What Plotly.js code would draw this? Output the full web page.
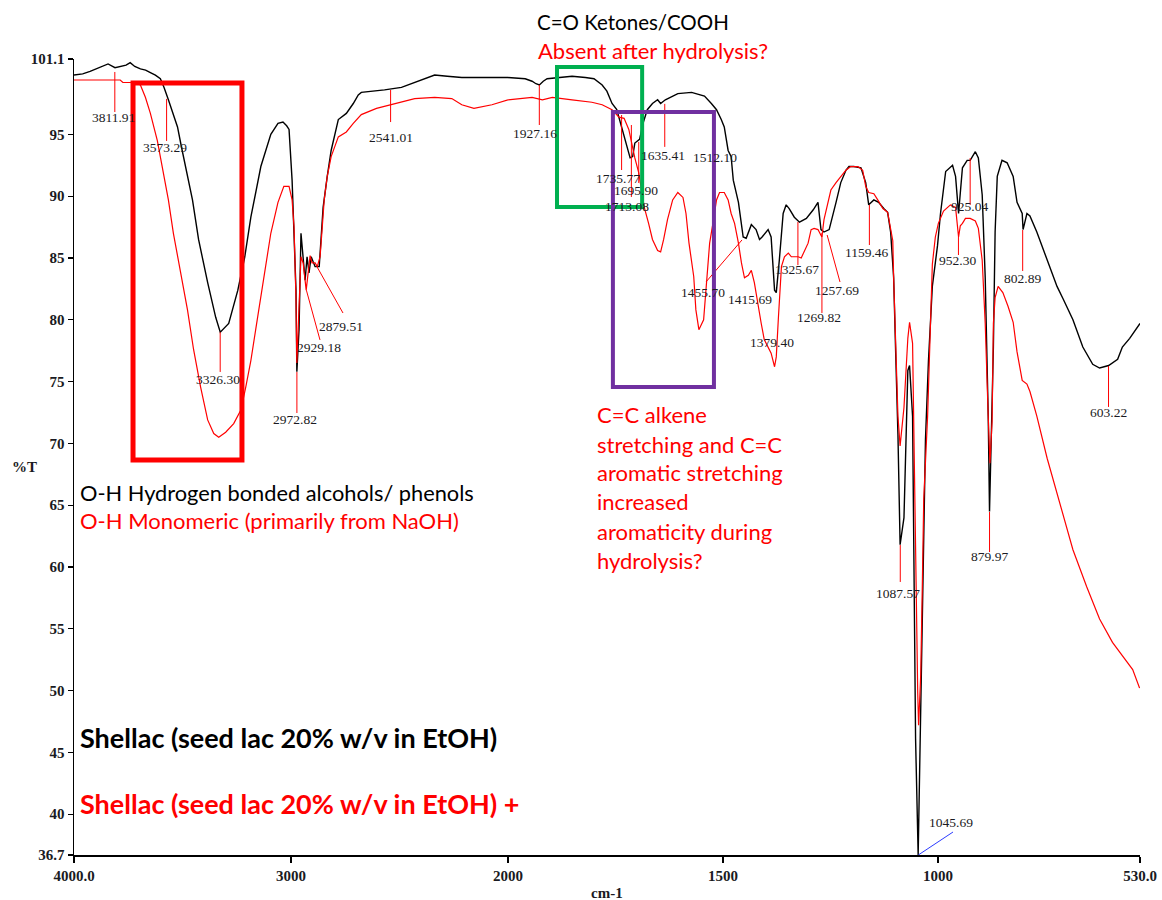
<!DOCTYPE html>
<html>
<head>
<meta charset="utf-8">
<script src="https://cdn.plot.ly/plotly-3.0.1.min.js"></script>
<style>
  html, body { margin: 0; padding: 0; background: #ffffff; }
  #chart { width: 1162px; height: 900px; }
</style>
</head>
<body>
<div id="chart"></div>
<script>
// FTIR spectra: wavenumber (cm-1) against transmittance (%T)
const shellacWn = [4000,3960,3926,3880,3843,3811,3787,3760,3741,3720,3694,3670,3648,3625,3602,3585,3565,3545,3523,3505,3486,3454,3426,3405,3384,3347,3326,3287,3245,3213,3185,3139,3093,3060,3037,3020,3009,2995,2986,2977,2973,2963,2954,2944,2935,2926,2917,2907,2889,2870,2861,2852,2833,2815,2782,2745,2713,2690,2676,2620,2569,2491,2430,2398,2338,2280,2213,2150,2074,2000,1960,1944,1935,1927,1918,1909,1874,1851,1820,1800,1781,1770,1758,1747,1735,1724,1716,1710,1705,1694,1685,1676,1664,1652,1645,1634,1605,1573,1543,1527,1515,1504,1497,1488,1481,1476,1464,1453,1446,1434,1423,1415,1409,1395,1388,1380,1376,1369,1360,1353,1346,1334,1322,1306,1290,1279,1272,1265,1253,1237,1226,1214,1207,1196,1179,1168,1161,1149,1138,1126,1117,1110,1103,1098,1093,1088,1079,1070,1066,1059,1056,1052,1046,1043,1036,1029,1022,1013,1001,994,982,966,959,952,943,932,925,913,906,897,890,883,880,876,871,867,862,851,839,825,816,804,802,793,786,770,746,723,709,686,663,640,624,603,582,571,554,538,530];
const shellacT = [99.8,99.9,100.1,100.4,100.7,100.4,100.5,100.6,100.8,100.5,100.3,100.2,100.0,99.8,99.5,98.8,97.8,96.7,95.6,94.0,92.4,89.7,86.5,84.6,83.0,80.2,79.0,79.7,82.4,85.1,88.3,92.4,95.0,95.9,96.0,95.7,95.4,91.3,87.5,82.4,75.8,79.2,87.0,84.8,83.2,85.1,83.8,85.1,84.3,84.3,87.0,89.1,91.6,93.7,96.2,96.7,97.5,98.2,98.4,98.5,98.6,98.8,99.2,99.4,99.8,99.7,99.6,99.6,99.6,99.6,99.5,99.3,99.1,99.0,99.3,99.5,99.6,99.7,99.6,99.5,99.0,98.5,97.5,97.0,95.5,94.0,93.1,93.2,94.3,94.6,96.0,97.0,97.5,97.8,97.5,97.8,98.3,98.4,98.1,97.5,97.0,96.2,95.6,93.7,93.2,91.3,89.5,86.7,86.6,87.7,87.3,86.5,86.7,87.3,86.7,82.4,82.2,84.8,88.6,89.3,89.0,88.3,87.9,88.2,88.9,89.5,87.3,87.1,87.3,89.5,91.1,92.1,92.4,92.4,92.3,91.1,89.3,89.7,89.5,89.0,88.7,87.1,83.4,77.0,70.7,61.8,64.0,75.9,76.3,72.2,59.1,46.1,36.7,42.4,57.3,70.3,76.7,82.7,86.0,88.6,92.0,92.5,91.6,88.6,92.3,92.9,92.9,93.6,93.1,90.1,83.4,72.2,64.5,70.3,77.8,87.1,91.6,92.9,92.7,91.6,89.5,88.6,87.3,88.6,88.4,87.1,84.8,82.7,81.7,80.0,77.8,76.4,76.1,76.3,76.8,77.8,78.5,79.3,79.7];

const hydrolysedWn = [4000,3900,3810,3787,3775,3741,3710,3694,3671,3648,3616,3588,3565,3542,3509,3477,3449,3417,3384,3356,3333,3301,3264,3231,3208,3185,3153,3125,3093,3060,3033,3009,2995,2986,2977,2973,2963,2954,2944,2935,2930,2921,2912,2903,2889,2879,2866,2856,2847,2833,2815,2782,2745,2713,2676,2606,2537,2491,2430,2338,2259,2213,2157,2074,2000,1944,1920,1897,1851,1805,1781,1758,1742,1730,1719,1712,1705,1696,1689,1683,1673,1664,1652,1645,1638,1629,1617,1605,1593,1586,1579,1568,1563,1556,1545,1538,1531,1522,1515,1508,1497,1488,1481,1473,1464,1457,1450,1441,1434,1427,1418,1411,1404,1395,1388,1380,1376,1371,1364,1357,1348,1341,1325,1318,1302,1295,1288,1279,1270,1265,1255,1249,1237,1226,1214,1203,1186,1175,1168,1161,1149,1140,1128,1117,1110,1105,1103,1098,1093,1088,1079,1070,1066,1059,1056,1052,1047,1045,1040,1036,1033,1024,1017,1013,1006,999,987,971,959,955,952,948,943,936,925,913,906,897,890,883,879,874,871,867,860,849,837,825,816,804,793,786,770,746,716,686,654,624,594,571,547,531];
const hydrolysedT = [99.4,99.4,99.4,99.4,99.2,99.2,99.1,99.0,98.0,96.7,94.5,91.9,89.7,87.0,84.0,80.8,77.6,74.6,71.9,70.8,70.5,70.9,71.6,72.7,74.6,76.7,80.3,83.6,87.0,89.5,90.8,90.8,89.7,87.5,81.6,76.5,81.6,85.1,84.6,83.0,82.4,83.8,85.2,84.6,84.6,84.3,85.1,87.5,89.7,91.6,93.2,94.8,95.2,95.9,96.6,97.1,97.4,97.6,97.9,98.0,97.9,97.4,97.1,97.4,97.8,98.0,97.8,98.0,97.8,97.6,97.4,97.0,96.4,96.3,95.4,94.1,93.1,91.9,90.5,89.1,87.8,86.5,85.6,85.5,86.5,88.1,89.7,90.3,89.9,88.6,86.2,83.5,80.8,79.2,80.0,83.2,86.2,88.1,89.7,90.3,90.3,89.7,88.6,87.8,86.2,84.6,83.4,83.6,84.0,83.0,81.0,79.7,78.4,77.8,77.3,76.2,77.0,80.2,84.3,85.1,85.4,85.1,85.1,85.0,86.2,87.3,87.4,87.3,86.7,88.1,89.5,90.5,91.1,91.6,92.1,92.4,92.4,92.1,90.8,90.3,90.2,89.7,89.0,88.7,87.4,86.4,83.4,77.4,72.2,69.8,72.9,78.5,79.8,78.1,70.3,59.1,49.8,47.2,51.3,59.1,65.5,72.2,80.4,84.5,86.7,87.8,88.8,89.3,89.1,87.8,86.7,87.6,87.8,88.2,88.2,88.0,87.4,84.8,79.7,72.2,68.4,71.8,79.7,81.8,82.7,82.2,81.1,79.8,77.4,75.1,74.8,74.2,72.2,68.8,65.1,61.4,58.4,55.8,53.9,52.8,51.7,50.2];

// Axis ticks (the wavenumber scale doubles below 2000 cm-1)
const highTickVals = [4000, 3000, 2000];
const highTickText = ['4000.0', '3000', '2000'];
const lowTickVals = [1500, 1000, 530];
const lowTickText = ['1500', '1000', '530.0'];
const yTickVals = [101.1, 95, 90, 85, 80, 75, 70, 65, 60, 55, 50, 45, 40, 36.7];
const yTickText = ['101.1', '95', '90', '85', '80', '75', '70', '65', '60', '55', '50', '45', '40', '36.7'];

// Picked peak positions (cm-1)
const peakValues = [3811.91, 3573.29, 3326.30, 2972.82, 2929.18, 2879.51, 2541.01, 1927.16, 1735.77, 1713.08, 1695.90, 1635.41, 1512.10, 1455.70, 1415.69, 1379.40, 1325.67, 1269.82, 1257.69, 1159.46, 1087.57, 1045.69, 952.30, 925.04, 879.97, 802.89, 603.22];

// Placement of each peak label: leader from (peak, top) to (ex, bot), text centred at (lx, ly)
const peakPlacement = [
  {top: 100.05, bot: 96.81, lx: 3820, ly: 96.33},
  {top: 97.87, bot: 94.47, lx: 3580.7, ly: 93.9},
  {top: 79.0, bot: 75.78, lx: 3336.4, ly: 75.15},
  {top: 75.78, bot: 72.46, lx: 2981.6, ly: 71.9},
  {top: 82.4, ex: 2866.4, bot: 78.37, lx: 2871, ly: 77.72},
  {top: 84.27, ex: 2760.4, bot: 80.55, lx: 2769.7, ly: 79.42},
  {top: 98.59, bot: 96.0, lx: 2541, ly: 94.73},
  {top: 99.0, bot: 95.76, lx: 1937.2, ly: 95.11},
  {top: 96.57, bot: 92.12, lx: 1744, ly: 91.47},
  {top: 95.76, bot: 89.94, lx: 1723, ly: 89.13},
  {top: 94.39, bot: 91.07, lx: 1702, ly: 90.5},
  {top: 97.47, bot: 93.99, lx: 1639.5, ly: 93.33},
  {lx: 1518.5, ly: 93.17},
  {top: 86.46, ex: 1539.5, bot: 83.06, lx: 1546.4, ly: 82.17},
  {lx: 1437, ly: 81.68},
  {lx: 1386, ly: 78.2},
  {top: 87.91, bot: 84.43, lx: 1327.8, ly: 84.03},
  {top: 87.02, bot: 80.55, lx: 1276.6, ly: 80.15},
  {top: 86.86, ex: 1227.8, bot: 83.06, lx: 1234.7, ly: 82.41},
  {top: 89.29, bot: 86.05, lx: 1165, ly: 85.41},
  {top: 61.78, bot: 58.79, lx: 1092.9, ly: 57.82},
  {top: 36.7, ex: 964.9, bot: 38.56, lx: 969.5, ly: 39.29, color: '#2b3bff'},
  {top: 86.7, bot: 85.24, lx: 955.6, ly: 84.76},
  {top: 93.09, bot: 89.29, lx: 927.7, ly: 89.13},
  {top: 64.45, bot: 61.21, lx: 880, ly: 60.81},
  {top: 87.27, bot: 83.95, lx: 804.4, ly: 83.38},
  {top: 76.26, bot: 72.95, lx: 603, ly: 72.54}
];

const SPLIT = 2000;
const axisFor = wn => (wn >= SPLIT ? 'x' : 'x2');

// One trace per axis segment so each part uses its own wavenumber scale
function spectrumTraces(wn, t, color, width) {
  const hi = {x: [], y: []}, lo = {x: [], y: []};
  wn.forEach((w, i) => {
    if (w >= SPLIT) { hi.x.push(w); hi.y.push(t[i]); }
    if (w <= SPLIT) { lo.x.push(w); lo.y.push(t[i]); }
  });
  const line = {color: color, width: width};
  return [
    {type: 'scatter', mode: 'lines', x: hi.x, y: hi.y, xaxis: 'x', yaxis: 'y', line: line, hoverinfo: 'skip'},
    {type: 'scatter', mode: 'lines', x: lo.x, y: lo.y, xaxis: 'x2', yaxis: 'y', line: line, hoverinfo: 'skip'}
  ];
}

const traces = [
  ...spectrumTraces(shellacWn, shellacT, '#000000', 1.4),
  ...spectrumTraces(hydrolysedWn, hydrolysedT, '#ff0000', 1.2)
];

const labelFont = {family: 'Liberation Serif, Times New Roman, serif', size: 13.5, color: '#1a1a22'};
const tickFont = {family: 'Liberation Serif, Times New Roman, serif', size: 15, color: '#1a1a22', weight: 'bold'};
const noteFont = {family: 'Lato, Liberation Sans, sans-serif', size: 22, color: '#000000'};

const shapes = [];
const annotations = [];

peakValues.forEach((v, i) => {
  const p = peakPlacement[i];
  if (p.top !== undefined) {
    const ex = p.ex !== undefined ? p.ex : v;
    shapes.push({
      type: 'line', xref: axisFor(v), yref: 'y',
      x0: v, y0: p.top, x1: ex, y1: p.bot,
      line: {color: p.color || '#ff0000', width: 1}
    });
  }
  annotations.push({
    xref: axisFor(p.lx), yref: 'y', x: p.lx, y: p.ly,
    text: v.toFixed(2), showarrow: false, font: labelFont,
    xanchor: 'center', yanchor: 'middle'
  });
});

// Highlight boxes around regions of interest
shapes.push(
  {type: 'rect', xref: 'x', yref: 'y', x0: 3728, x1: 3226, y0: 68.66, y1: 99.16,
   line: {color: '#ff0000', width: 5}, fillcolor: 'rgba(0,0,0,0)'},
  {type: 'rect', xref: 'x2', yref: 'y', x0: 1886, x1: 1688, y0: 89.13, y1: 100.45,
   line: {color: '#00b050', width: 4}, fillcolor: 'rgba(0,0,0,0)'},
  {type: 'rect', xref: 'x2', yref: 'y', x0: 1756, x1: 1521, y0: 74.56, y1: 96.81,
   line: {color: '#7030a0', width: 4}, fillcolor: 'rgba(0,0,0,0)'}
);

function note(text, x, y, color, extra) {
  annotations.push(Object.assign({
    xref: 'paper', yref: 'paper', x: x, y: y, text: text, showarrow: false,
    xanchor: 'left', yanchor: 'middle',
    font: Object.assign({}, noteFont, {color: color})
  }, extra || {}));
}

note('C=O Ketones/COOH', 0.4325, 1.0465, '#000000', {font: Object.assign({}, noteFont, {size: 20.5})});
note('Absent after hydrolysis?', 0.4334, 1.0113, '#ff0000');
note('O-H Hydrogen bonded alcohols/ phenols', 0.00375, 0.4548, '#000000', {font: Object.assign({}, noteFont, {size: 21.8})});
note('O-H Monomeric (primarily from NaOH)', 0.00375, 0.4196, '#ff0000');
const alkeneLines = ['C=C alkene', 'stretching and C=C', 'aromatic stretching', 'increased', 'aromaticity during', 'hydrolysis?'];
const alkeneY = [0.5528, 0.5163, 0.4799, 0.4435, 0.4070, 0.3706];
alkeneLines.forEach((t, i) => note(t, 0.4887, alkeneY[i], '#ff0000'));

const boldFont = {family: 'Lato, Liberation Sans, sans-serif', size: 27, weight: 'bold'};
note('Shellac (seed lac 20% w/v in EtOH)', 0.00375, 0.147, '#000000', {font: Object.assign({}, boldFont, {color: '#000000'})});
note('Shellac (seed lac 20% w/v in EtOH) +', 0.00375, 0.0653, '#ff0000', {font: Object.assign({}, boldFont, {color: '#ff0000'})});

// Axis titles
annotations.push(
  {xref: 'paper', yref: 'paper', x: 0.5, y: -0.0477, text: 'cm-1', showarrow: false,
   xanchor: 'center', yanchor: 'middle', font: tickFont},
  {xref: 'paper', yref: 'paper', x: -0.046, y: 0.4874, text: '%T', showarrow: false,
   xanchor: 'center', yanchor: 'middle', font: tickFont}
);

const splitFrac = 434 / 1066;
const xCommon = {
  showgrid: false, zeroline: false, showline: true, linecolor: '#000000', linewidth: 2,
  ticks: 'outside', ticklen: 6, tickwidth: 1.5, tickcolor: '#000000',
  tickmode: 'array', tickfont: tickFont, anchor: 'y', fixedrange: true
};

const layout = {
  width: 1162, height: 900,
  margin: {l: 74, r: 22, t: 59, b: 45},
  paper_bgcolor: '#ffffff', plot_bgcolor: '#ffffff',
  showlegend: false, hovermode: false,
  xaxis: Object.assign({}, xCommon, {domain: [0, splitFrac], range: [4000, SPLIT],
    tickvals: highTickVals, ticktext: highTickText}),
  xaxis2: Object.assign({}, xCommon, {domain: [splitFrac, 1], range: [SPLIT, 530],
    tickvals: lowTickVals, ticktext: lowTickText}),
  yaxis: {
    range: [36.7, 101.1], showgrid: false, zeroline: false, showline: true,
    linecolor: '#000000', linewidth: 1.5, ticks: 'outside', ticklen: 5, tickwidth: 1.2,
    tickcolor: '#000000', tickmode: 'array', tickvals: yTickVals, ticktext: yTickText,
    tickfont: tickFont, fixedrange: true
  },
  shapes: shapes,
  annotations: annotations
};

Plotly.newPlot('chart', traces, layout, {displayModeBar: false, staticPlot: true});
</script>
</body>
</html>
